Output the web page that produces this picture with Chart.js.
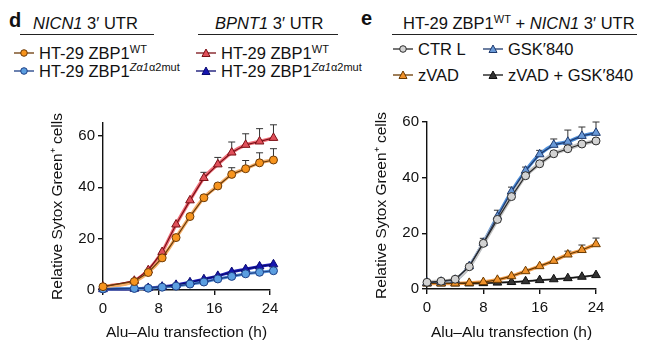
<!DOCTYPE html>
<html>
<head>
<meta charset="utf-8">
<script src="https://cdn.jsdelivr.net/npm/chart.js@4.4.0/dist/chart.umd.min.js"></script>
<style>
  body { margin: 0; width: 650px; height: 350px; position: relative; background: #fff; overflow: hidden;
         font-family: "Liberation Sans", Arial, sans-serif; color: #111; }
  .abs { position: absolute; white-space: nowrap; }
  .panel { font-weight: bold; font-size: 20px; line-height: 20px; }
  .head { font-size: 16.5px; line-height: 18px; }
  .rule { position: absolute; height: 0; border-top: 1.4px solid #222; }
  .leg { position: absolute; display: flex; align-items: center; font-size: 16.5px; line-height: 18px; white-space: nowrap; }
  .leg svg { margin-right: 5px; }
  sup { font-size: 11px; vertical-align: 6px; line-height: 0; }
  canvas { position: absolute; }
</style>
</head>
<body>
  <div class="abs panel" style="left:9px; top:10px;">d</div>
  <div class="abs head" style="left:33px; top:14px;"><i>NICN1</i> 3′ UTR</div>
  <div class="rule" style="left:20px; top:34px; width:134px;"></div>
  <div class="abs head" style="left:215px; top:14px;"><i>BPNT1</i> 3′ UTR</div>
  <div class="rule" style="left:198px; top:34px; width:140px;"></div>

  <div class="abs panel" style="left:361px; top:8px;">e</div>
  <div class="abs head" style="left:403px; top:14px;">HT-29 ZBP1<sup>WT</sup> + <i>NICN1</i> 3′ UTR</div>
  <div class="rule" style="left:392px; top:34px; width:245px;"></div>

  <div id="legends"></div>

  <canvas id="chartD" width="260" height="240" style="left:30px; top:110px;"></canvas>
  <canvas id="chartE" width="270" height="240" style="left:350px; top:110px;"></canvas>

<script>
// ---- panel d data ----
const timeD = [0, 4.5, 6.5, 8.5, 10.5, 12.5, 14.5, 16.5, 18.5, 20.5, 22.5, 24.5];
const nicnWT = [1.3, 3.3, 6.8, 12.5, 20.4, 28.6, 35.9, 40.5, 45.0, 47.2, 49.5, 50.6];
const nicnWTErr = [null, null, null, null, null, null, null, null, 47.6, 50.4, 53.4, 55.0];
const nicnMut = [0.4, 0.6, 0.7, 1.1, 1.5, 2.3, 3.1, 4.3, 5.3, 6.3, 6.9, 7.5];
const bpntWT = [1.3, 3.6, 7.7, 14.8, 25.5, 34.9, 43.6, 48.9, 53.5, 56.5, 57.8, 59.2];
const bpntWTErr = [null, null, null, null, null, null, 45.8, 51.6, 57.6, 60.8, 62.8, 64.3];
const bpntMut = [0.3, 0.5, 0.8, 1.3, 2.0, 3.0, 4.2, 5.5, 7.0, 8.1, 9.2, 10.0];

// ---- panel e data ----
const timeE = [0, 2, 4, 6, 8, 10, 12, 14, 16, 18, 20, 22, 24];
const ctrl = [2.4, 2.8, 3.5, 8.0, 16.4, 25.0, 33.2, 40.7, 45.0, 48.6, 50.4, 52.1, 53.2];
const gsk = [2.3, 2.6, 3.3, 8.2, 16.6, 26.0, 35.0, 42.5, 48.4, 51.8, 52.9, 55.0, 56.1];
const gskErr = [null, null, null, null, 18.2, 28.3, 36.6, 43.8, 49.8, 53.9, 57.1, 58.2, 60.0];
const zvad = [2.0, 2.0, 2.0, 2.2, 2.5, 3.3, 4.6, 6.4, 8.2, 10.1, 12.4, 14.0, 16.1];
const zvadErr = [null, null, null, null, null, null, null, null, null, null, 13.6, 15.8, 18.3];
const zvadGsk = [2.0, 2.0, 2.0, 2.0, 2.1, 2.3, 2.5, 2.8, 3.2, 3.5, 3.9, 4.4, 5.0];

const yTicksD = [0, 20, 40, 60];
const yTicksE = [0, 20, 40, 60];
const xTicks = [0, 8, 16, 24];

const FONT = "'Liberation Sans', Arial, sans-serif";

// series styles
const sOrange = { fill: "#f7941d", dark: "#6b3a08", fit: "#f6b06a", fitW: 3.5, shape: "circle", r: 4 };
const sLightBlue = { fill: "#5b9ee0", dark: "#1d3f86", fit: "#5a92d8", fitW: 3, shape: "circle", r: 4 };
const sRed = { fill: "#e0505a", dark: "#7a1016", fit: "#f0707a", fitW: 3.5, shape: "triangle", r: 5 };
const sNavy = { fill: "#1616b0", dark: "#0a0a70", fit: "#2020b8", fitW: 3, shape: "triangle", r: 5 };
const sGrey = { fill: "#d2d2d2", dark: "#2a2a2a", fit: "#c4c4c4", fitW: 4, shape: "circle", r: 4 };
const sBlue = { fill: "#6a9ad8", dark: "#1e3a6e", fit: "#4f8ed8", fitW: 3.5, shape: "triangle", r: 5 };
const sZvad = { fill: "#f0922b", dark: "#6b3a00", fit: "#f4a04e", fitW: 3.5, shape: "triangle", r: 5 };
const sBlack = { fill: "#333333", dark: "#111111", fit: "#555555", fitW: 2, shape: "triangle", r: 5 };

function seriesSets(times, vals, errs, s) {
  const pts = times.map((t, i) => ({ x: t, y: vals[i] }));
  return [
    {
      data: pts, borderColor: s.dark, borderWidth: 1.2, tension: 0,
      pointStyle: s.shape, pointRadius: s.r, pointBackgroundColor: s.fill,
      pointBorderColor: s.dark, pointBorderWidth: 1, errTop: errs, order: 1, clip: false,
    },
    {
      data: pts, borderColor: s.fit, borderWidth: s.fitW, pointRadius: 0,
      cubicInterpolationMode: "monotone", order: 2, clip: false,
    },
  ];
}

// error bars (upper half only, with cap)
const errorBars = {
  id: "errorBars",
  beforeDatasetsDraw(chart) {
    const { ctx } = chart;
    const y = chart.scales.y;
    ctx.save();
    ctx.strokeStyle = "#333";
    ctx.lineWidth = 1;
    chart.data.datasets.forEach((ds, i) => {
      if (!ds.errTop) return;
      const meta = chart.getDatasetMeta(i);
      ds.errTop.forEach((top, j) => {
        if (top == null) return;
        const p = meta.data[j];
        const py = y.getPixelForValue(top);
        ctx.beginPath();
        ctx.moveTo(p.x, p.y);
        ctx.lineTo(p.x, py);
        ctx.moveTo(p.x - 3.5, py);
        ctx.lineTo(p.x + 3.5, py);
        ctx.stroke();
      });
    });
    ctx.restore();
  },
};

function makeChart(id, datasets, yMax, yTicks, g) {
  return new Chart(document.getElementById(id), {
    type: "line",
    data: { datasets },
    options: {
      responsive: false,
      animation: false,
      layout: { padding: { top: g.top, right: g.right, left: 0, bottom: 0 } },
      plugins: { legend: { display: false }, tooltip: { enabled: false } },
      scales: {
        x: {
          type: "linear", min: 0, max: 24,
          afterBuildTicks: (sc) => { sc.ticks = xTicks.map((v) => ({ value: v })); },
          afterFit: (sc) => { sc.height = g.xh; },
          ticks: { color: "#111", font: { family: FONT, size: 15 }, padding: 5, maxRotation: 0 },
          grid: { drawOnChartArea: false, drawTicks: true, tickLength: 5, color: "#111", lineWidth: 1.4 },
          border: { color: "#111", width: 1.4 },
          title: { display: true, text: "Alu–Alu transfection (h)", color: "#111",
                   font: { family: FONT, size: 15.5 }, padding: { top: 0, bottom: 7.7 } },
        },
        y: {
          type: "linear", min: 0, max: yMax,
          afterBuildTicks: (sc) => { sc.ticks = yTicks.map((v) => ({ value: v })); },
          afterFit: (sc) => { sc.width = g.yw; },
          ticks: { color: "#111", font: { family: FONT, size: 15 }, padding: 3 },
          grid: { drawOnChartArea: false, drawTicks: true, tickLength: 5, color: "#111", lineWidth: 1.4 },
          border: { color: "#111", width: 1.4 },
          title: { display: true, text: "Relative Sytox Green⁺ cells", color: "#111",
                   font: { family: FONT, size: 15.5 }, padding: { top: g.ytp, bottom: 0 } },
        },
      },
    },
    plugins: [errorBars],
  });
}

makeChart("chartD", [
  ...seriesSets(timeD, nicnWT, nicnWTErr, sOrange),
  ...seriesSets(timeD, nicnMut, null, sLightBlue),
  ...seriesSets(timeD, bpntWT, bpntWTErr, sRed),
  ...seriesSets(timeD, bpntMut, null, sNavy),
], 65, yTicksD, { top: 13, right: 20, xh: 60, yw: 73, ytp: 18.7 });

makeChart("chartE", [
  ...seriesSets(timeE, ctrl, null, sGrey),
  ...seriesSets(timeE, gsk, gskErr, sBlue),
  ...seriesSets(timeE, zvad, zvadErr, sZvad),
  ...seriesSets(timeE, zvadGsk, null, sBlack),
], 60, yTicksE, { top: 10, right: 24, xh: 61, yw: 77, ytp: 22.7 });

// ---- legends (html text + small svg markers) ----
function marker(s) {
  const shape = s.shape === "circle"
    ? `<circle cx="10" cy="5" r="3.3" fill="${s.fill}" stroke="${s.dark}" stroke-width="1"/>`
    : `<polygon points="10,1 14,8.5 6,8.5" fill="${s.fill}" stroke="${s.dark}" stroke-width="1"/>`;
  return `<svg width="20" height="10"><line x1="0" y1="5" x2="20" y2="5" stroke="${s.dark}" stroke-width="1.3"/>${shape}</svg>`;
}
const legendItems = [
  { s: sOrange, html: "HT-29 ZBP1<sup>WT</sup>", x: 14, y: 44 },
  { s: sLightBlue, html: "HT-29 ZBP1<sup><i>Zα1</i>α2mut</sup>", x: 14, y: 62 },
  { s: sRed, html: "HT-29 ZBP1<sup>WT</sup>", x: 196, y: 44 },
  { s: sNavy, html: "HT-29 ZBP1<sup><i>Zα1</i>α2mut</sup>", x: 196, y: 62 },
  { s: sGrey, html: "CTR L", x: 393, y: 40 },
  { s: sBlue, html: "GSK′840", x: 483, y: 40 },
  { s: sZvad, html: "zVAD", x: 393, y: 66 },
  { s: sBlack, html: "zVAD + GSK′840", x: 483, y: 66 },
];
document.getElementById("legends").innerHTML = legendItems
  .map((it) => `<div class="leg" style="left:${it.x}px; top:${it.y}px;">${marker(it.s)}<span>${it.html}</span></div>`)
  .join("");
</script>
</body>
</html>
